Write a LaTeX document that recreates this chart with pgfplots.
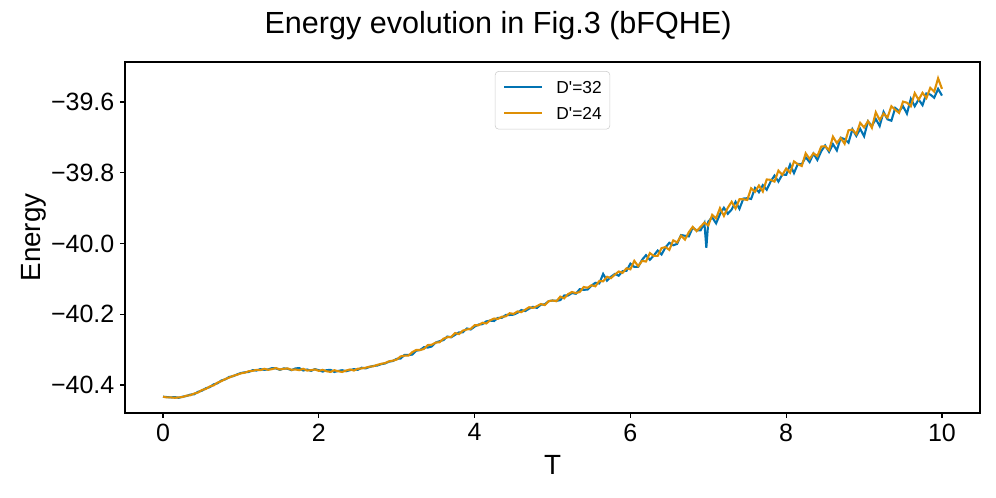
\documentclass[border=0pt]{standalone}
\usepackage{fontspec}
\setmainfont{Liberation Sans}
\usepackage{pgfplots}
\pgfplotsset{compat=1.18}

\definecolor{cbblue}{RGB}{1,115,178}
\definecolor{cborange}{RGB}{222,143,5}

\begin{document}
\begin{tikzpicture}
\path[use as bounding box] (-90pt,-61.2pt) rectangle (627.12pt,297.36pt);
\begin{axis}[
  at={(0pt,0pt)}, anchor=south west, scale only axis,
  width=615.6pt, height=252.72pt,
  xmin=-0.488, xmax=10.488, ymin=-40.479, ymax=-39.487,
  xtick={0,2,4,6,8,10},
  ytick={-40.4,-40.2,-40.0,-39.8,-39.6},
  yticklabels={−40.4,−40.2,−40.0,−39.8,−39.6},
  tick align=outside, xtick pos=bottom, ytick pos=left,
  major tick length=3.5pt,
  axis line style={line width=0.8pt},
  every tick/.style={black, line width=0.8pt},
  tick label style={font=\fontsize{18}{21}\selectfont},
  /pgf/number format/assume math mode=true,
  xticklabel style={inner sep=0pt, anchor=north, yshift=-4pt},
  yticklabel style={inner sep=0pt, anchor=east, xshift=-4pt},
  title={Energy evolution in Fig.3 (bFQHE)},
  every axis title/.style={at={(axis description cs:0.4363,1.0826)}, anchor=base, inner sep=0pt, font=\fontsize{22}{26}\selectfont},
  xlabel={T},
  xlabel style={at={(axis description cs:0.5,-0.1766)}, anchor=base, inner sep=0pt, font=\fontsize{20}{24}\selectfont},
  ylabel={Energy},
  ylabel style={at={(axis description cs:-0.0994,0.5)}, anchor=base, inner sep=0pt, font=\fontsize{20}{24}\selectfont},
  legend style={at={(axis description cs:0.5,0.974)}, anchor=north, draw=black!20, rounded corners=2.5pt,
    fill=white, font=\fontsize{12.5}{15}\selectfont, inner xsep=5.8pt, inner ysep=7pt, row sep=9.6pt,
    nodes={inner sep=0pt, text height=9pt, text depth=0pt},
    /tikz/every odd column/.append style={column sep=9.4pt}},
  legend cell align=left,
  legend image code/.code={\draw[#1] (0pt,0pt) -- (27.4pt,0pt);},
]
% D'=32
\addplot[cbblue, line width=1.5pt] coordinates {
(0.00,-40.433) (0.05,-40.434) (0.10,-40.435) (0.15,-40.434) (0.20,-40.436) (0.25,-40.433) (0.30,-40.431) (0.35,-40.427)
(0.40,-40.426) (0.45,-40.419) (0.50,-40.416) (0.55,-40.409) (0.60,-40.406) (0.65,-40.398) (0.70,-40.395) (0.75,-40.387)
(0.80,-40.384) (0.85,-40.377) (0.90,-40.375) (0.95,-40.370) (1.00,-40.366) (1.05,-40.364) (1.10,-40.363) (1.15,-40.358)
(1.20,-40.359) (1.25,-40.355) (1.30,-40.357) (1.35,-40.356) (1.40,-40.352) (1.45,-40.353) (1.50,-40.357) (1.55,-40.353)
(1.60,-40.354) (1.65,-40.358) (1.70,-40.353) (1.75,-40.352) (1.80,-40.359) (1.85,-40.356) (1.90,-40.360) (1.95,-40.355)
(2.00,-40.358) (2.05,-40.362) (2.10,-40.358) (2.15,-40.357) (2.20,-40.363) (2.25,-40.360) (2.30,-40.358) (2.35,-40.361)
(2.40,-40.358) (2.45,-40.355) (2.50,-40.357) (2.55,-40.351) (2.60,-40.353) (2.65,-40.349) (2.70,-40.346) (2.75,-40.345)
(2.80,-40.341) (2.85,-40.339) (2.90,-40.334) (2.95,-40.332) (3.00,-40.326) (3.05,-40.325) (3.10,-40.315) (3.15,-40.315)
(3.20,-40.314) (3.25,-40.303) (3.30,-40.301) (3.35,-40.293) (3.40,-40.294) (3.45,-40.291) (3.50,-40.280) (3.55,-40.276)
(3.60,-40.273) (3.65,-40.263) (3.70,-40.265) (3.75,-40.258) (3.80,-40.251) (3.85,-40.251) (3.90,-40.240) (3.95,-40.243)
(4.00,-40.235) (4.05,-40.229) (4.10,-40.228) (4.15,-40.220) (4.20,-40.218) (4.25,-40.219) (4.30,-40.210) (4.35,-40.210)
(4.40,-40.202) (4.45,-40.202) (4.50,-40.201) (4.55,-40.196) (4.60,-40.188) (4.65,-40.191) (4.70,-40.184) (4.75,-40.179)
(4.80,-40.182) (4.85,-40.173) (4.90,-40.172) (4.95,-40.163) (5.00,-40.161) (5.05,-40.162) (5.10,-40.160) (5.15,-40.147)
(5.20,-40.147) (5.25,-40.140) (5.30,-40.142) (5.35,-40.129) (5.40,-40.131) (5.45,-40.130) (5.50,-40.119) (5.55,-40.111)
(5.60,-40.113) (5.65,-40.086) (5.70,-40.105) (5.75,-40.094) (5.80,-40.086) (5.85,-40.091) (5.90,-40.078) (5.95,-40.077)
(6.00,-40.057) (6.05,-40.066) (6.10,-40.066) (6.15,-40.046) (6.20,-40.033) (6.25,-40.046) (6.30,-40.034) (6.35,-40.020)
(6.40,-40.031) (6.45,-40.011) (6.50,-39.998) (6.55,-40.005) (6.60,-40.001) (6.65,-39.976) (6.70,-39.978) (6.75,-39.980)
(6.80,-39.955) (6.85,-39.963) (6.90,-39.963) (6.95,-39.942) (6.975,-40.012) (7.00,-39.938) (7.05,-39.926) (7.10,-39.943)
(7.15,-39.917) (7.20,-39.899) (7.25,-39.916) (7.30,-39.904) (7.35,-39.882) (7.40,-39.902) (7.45,-39.873) (7.50,-39.872)
(7.55,-39.874) (7.60,-39.843) (7.65,-39.855) (7.70,-39.835) (7.75,-39.848) (7.80,-39.825) (7.85,-39.808) (7.90,-39.825)
(7.95,-39.805) (8.00,-39.806) (8.05,-39.777) (8.10,-39.801) (8.15,-39.775) (8.20,-39.776) (8.25,-39.756) (8.30,-39.770)
(8.35,-39.746) (8.40,-39.764) (8.45,-39.739) (8.50,-39.723) (8.55,-39.741) (8.60,-39.719) (8.65,-39.737) (8.70,-39.701)
(8.75,-39.705) (8.80,-39.715) (8.85,-39.677) (8.90,-39.696) (8.95,-39.676) (9.00,-39.697) (9.05,-39.655) (9.10,-39.668)
(9.15,-39.648) (9.20,-39.668) (9.25,-39.628) (9.30,-39.649) (9.35,-39.653) (9.40,-39.617) (9.45,-39.626) (9.50,-39.612)
(9.55,-39.633) (9.60,-39.591) (9.65,-39.612) (9.70,-39.593) (9.75,-39.609) (9.80,-39.576) (9.85,-39.579) (9.90,-39.588)
(9.95,-39.563) (10.00,-39.582)
};
\addlegendentry{D\textquotesingle=32}
% D'=24
\addplot[cborange, line width=1.5pt] coordinates {
(0.00,-40.433) (0.05,-40.435) (0.10,-40.435) (0.15,-40.436) (0.20,-40.435) (0.25,-40.434) (0.30,-40.430) (0.35,-40.429)
(0.40,-40.424) (0.45,-40.421) (0.50,-40.414) (0.55,-40.411) (0.60,-40.404) (0.65,-40.401) (0.70,-40.393) (0.75,-40.389)
(0.80,-40.383) (0.85,-40.379) (0.90,-40.374) (0.95,-40.371) (1.00,-40.367) (1.05,-40.365) (1.10,-40.361) (1.15,-40.360)
(1.20,-40.357) (1.25,-40.358) (1.30,-40.354) (1.35,-40.357) (1.40,-40.355) (1.45,-40.352) (1.50,-40.356) (1.55,-40.354)
(1.60,-40.353) (1.65,-40.357) (1.70,-40.356) (1.75,-40.358) (1.80,-40.354) (1.85,-40.359) (1.90,-40.358) (1.95,-40.356)
(2.00,-40.360) (2.05,-40.357) (2.10,-40.361) (2.15,-40.363) (2.20,-40.358) (2.25,-40.361) (2.30,-40.363) (2.35,-40.359)
(2.40,-40.356) (2.45,-40.359) (2.50,-40.354) (2.55,-40.353) (2.60,-40.351) (2.65,-40.348) (2.70,-40.347) (2.75,-40.343)
(2.80,-40.340) (2.85,-40.338) (2.90,-40.333) (2.95,-40.331) (3.00,-40.328) (3.05,-40.319) (3.10,-40.317) (3.15,-40.317)
(3.20,-40.307) (3.25,-40.301) (3.30,-40.301) (3.35,-40.298) (3.40,-40.287) (3.45,-40.286) (3.50,-40.280) (3.55,-40.279)
(3.60,-40.269) (3.65,-40.265) (3.70,-40.264) (3.75,-40.253) (3.80,-40.256) (3.85,-40.246) (3.90,-40.243) (3.95,-40.241)
(4.00,-40.231) (4.05,-40.231) (4.10,-40.224) (4.15,-40.226) (4.20,-40.217) (4.25,-40.212) (4.30,-40.213) (4.35,-40.207)
(4.40,-40.206) (4.45,-40.197) (4.50,-40.199) (4.55,-40.192) (4.60,-40.194) (4.65,-40.187) (4.70,-40.180) (4.75,-40.182)
(4.80,-40.177) (4.85,-40.171) (4.90,-40.174) (4.95,-40.163) (5.00,-40.161) (5.05,-40.163) (5.10,-40.150) (5.15,-40.155)
(5.20,-40.143) (5.25,-40.137) (5.30,-40.140) (5.35,-40.137) (5.40,-40.123) (5.45,-40.125) (5.50,-40.118) (5.55,-40.121)
(5.60,-40.106) (5.65,-40.107) (5.70,-40.094) (5.75,-40.098) (5.80,-40.088) (5.85,-40.079) (5.90,-40.083) (5.95,-40.070)
(6.00,-40.073) (6.05,-40.049) (6.10,-40.064) (6.15,-40.049) (6.20,-40.051) (6.25,-40.027) (6.30,-40.035) (6.35,-40.035)
(6.40,-40.013) (6.45,-40.010) (6.50,-40.018) (6.55,-39.991) (6.60,-39.997) (6.65,-39.978) (6.70,-39.989) (6.75,-39.968)
(6.80,-39.953) (6.85,-39.965) (6.90,-39.953) (6.95,-39.941) (7.00,-39.949) (7.05,-39.919) (7.10,-39.929) (7.15,-39.900)
(7.20,-39.922) (7.25,-39.899) (7.30,-39.882) (7.35,-39.901) (7.40,-39.875) (7.45,-39.875) (7.50,-39.877) (7.55,-39.844)
(7.60,-39.854) (7.65,-39.836) (7.70,-39.853) (7.75,-39.819) (7.80,-39.820) (7.85,-39.825) (7.90,-39.794) (7.95,-39.806)
(8.00,-39.788) (8.05,-39.800) (8.10,-39.768) (8.15,-39.776) (8.20,-39.781) (8.25,-39.745) (8.30,-39.761) (8.35,-39.745)
(8.40,-39.753) (8.45,-39.726) (8.50,-39.725) (8.55,-39.736) (8.60,-39.698) (8.65,-39.716) (8.70,-39.702) (8.75,-39.718)
(8.80,-39.680) (8.85,-39.678) (8.90,-39.691) (8.95,-39.659) (9.00,-39.672) (9.05,-39.654) (9.10,-39.673) (9.15,-39.629)
(9.20,-39.651) (9.25,-39.633) (9.30,-39.644) (9.35,-39.612) (9.40,-39.622) (9.45,-39.631) (9.50,-39.599) (9.55,-39.602)
(9.60,-39.612) (9.65,-39.575) (9.70,-39.594) (9.75,-39.574) (9.80,-39.589) (9.85,-39.560) (9.90,-39.571) (9.95,-39.533)
(10.00,-39.563)
};
\addlegendentry{D\textquotesingle=24}
\end{axis}
\end{tikzpicture}
\end{document}
